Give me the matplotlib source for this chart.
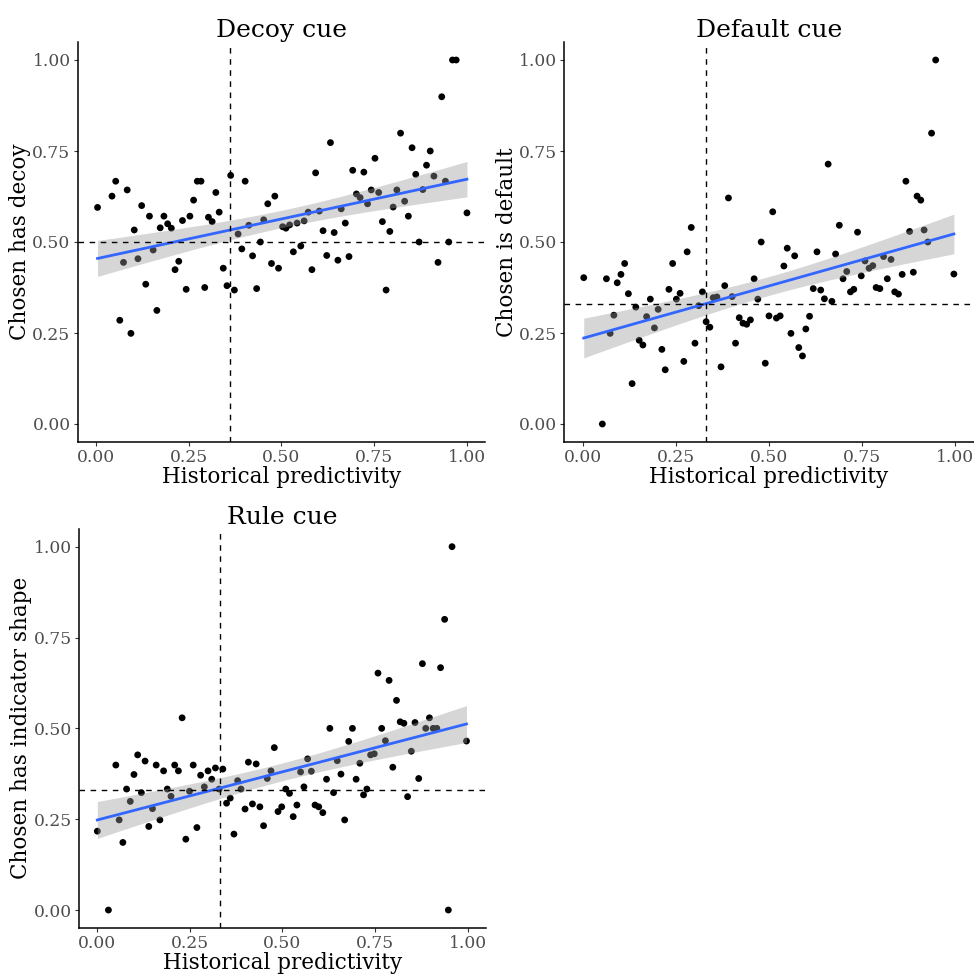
import numpy as np
import matplotlib
matplotlib.use("Agg")
import matplotlib.pyplot as plt

plt.rcParams['font.family'] = ['DejaVu Serif']

# Decoy cue
decoy_x = [0.004, 0.043, 0.053, 0.064, 0.074, 0.084, 0.094, 0.103, 0.113, 0.123,
           0.134, 0.144, 0.154, 0.164, 0.173, 0.183, 0.193, 0.203, 0.213, 0.223,
           0.233, 0.243, 0.253, 0.263, 0.273, 0.283, 0.293, 0.303, 0.313, 0.323,
           0.332, 0.343, 0.353, 0.363, 0.373, 0.383, 0.393, 0.402, 0.412, 0.422,
           0.433, 0.443, 0.452, 0.463, 0.473, 0.482, 0.492, 0.503, 0.512, 0.522,
           0.532, 0.542, 0.552, 0.561, 0.572, 0.582, 0.592, 0.602, 0.612, 0.622,
           0.632, 0.642, 0.652, 0.661, 0.672, 0.682, 0.692, 0.702, 0.712, 0.722,
           0.732, 0.742, 0.752, 0.762, 0.772, 0.782, 0.792, 0.801, 0.811, 0.821,
           0.832, 0.842, 0.852, 0.862, 0.871, 0.881, 0.891, 0.901, 0.911, 0.922,
           0.932, 0.942, 0.951, 0.961, 0.971, 1.0]
decoy_y = [0.595, 0.626, 0.667, 0.285, 0.444, 0.643, 0.249, 0.533, 0.454, 0.600,
           0.384, 0.571, 0.478, 0.312, 0.539, 0.571, 0.550, 0.538, 0.424, 0.447,
           0.559, 0.370, 0.571, 0.615, 0.667, 0.667, 0.375, 0.568, 0.556, 0.636,
           0.582, 0.428, 0.380, 0.683, 0.368, 0.522, 0.481, 0.667, 0.546, 0.462,
           0.372, 0.500, 0.561, 0.605, 0.441, 0.626, 0.428, 0.542, 0.538, 0.547,
           0.473, 0.552, 0.489, 0.558, 0.582, 0.424, 0.690, 0.585, 0.531, 0.463,
           0.773, 0.526, 0.450, 0.591, 0.552, 0.460, 0.697, 0.632, 0.622, 0.692,
           0.605, 0.643, 0.730, 0.636, 0.556, 0.368, 0.529, 0.596, 0.643, 0.799,
           0.612, 0.571, 0.759, 0.686, 0.500, 0.644, 0.711, 0.750, 0.681, 0.444,
           0.899, 0.667, 0.500, 1.0, 1.0, 0.580]

# Default cue
default_x = [0.002, 0.052, 0.063, 0.073, 0.083, 0.092, 0.102, 0.112, 0.122, 0.132,
             0.142, 0.151, 0.161, 0.171, 0.181, 0.192, 0.202, 0.212, 0.221, 0.231,
             0.241, 0.251, 0.261, 0.271, 0.280, 0.291, 0.301, 0.311, 0.321, 0.331,
             0.341, 0.350, 0.360, 0.371, 0.381, 0.391, 0.401, 0.410, 0.420, 0.430,
             0.440, 0.450, 0.460, 0.470, 0.479, 0.490, 0.500, 0.510, 0.520, 0.530,
             0.540, 0.549, 0.559, 0.569, 0.580, 0.590, 0.599, 0.609, 0.619, 0.629,
             0.639, 0.649, 0.659, 0.669, 0.679, 0.689, 0.699, 0.709, 0.719, 0.728,
             0.738, 0.748, 0.758, 0.769, 0.779, 0.788, 0.798, 0.808, 0.818, 0.828,
             0.838, 0.848, 0.858, 0.868, 0.878, 0.888, 0.898, 0.908, 0.917, 0.927,
             0.937, 0.948, 0.997]
default_y = [0.402, 0.000, 0.399, 0.249, 0.299, 0.388, 0.411, 0.441, 0.358, 0.111,
             0.321, 0.230, 0.217, 0.295, 0.343, 0.264, 0.315, 0.205, 0.149, 0.370,
             0.441, 0.343, 0.359, 0.172, 0.473, 0.540, 0.222, 0.325, 0.363, 0.281,
             0.266, 0.347, 0.349, 0.157, 0.380, 0.621, 0.350, 0.222, 0.292, 0.277,
             0.274, 0.286, 0.399, 0.343, 0.500, 0.167, 0.297, 0.583, 0.291, 0.297,
             0.434, 0.483, 0.249, 0.462, 0.210, 0.187, 0.261, 0.296, 0.372, 0.473,
             0.368, 0.344, 0.714, 0.337, 0.467, 0.546, 0.399, 0.419, 0.363, 0.370,
             0.527, 0.407, 0.448, 0.428, 0.435, 0.375, 0.372, 0.460, 0.399, 0.452,
             0.363, 0.357, 0.411, 0.667, 0.529, 0.417, 0.626, 0.615, 0.533, 0.500,
             0.799, 1.000, 0.412]

# Rule cue
rule_x = [0.000, 0.030, 0.050, 0.059, 0.069, 0.079, 0.089, 0.099, 0.109, 0.119,
          0.129, 0.139, 0.149, 0.159, 0.169, 0.179, 0.189, 0.199, 0.209, 0.219,
          0.229, 0.239, 0.249, 0.259, 0.269, 0.279, 0.289, 0.299, 0.309, 0.319,
          0.329, 0.339, 0.349, 0.359, 0.369, 0.379, 0.388, 0.399, 0.408, 0.419,
          0.429, 0.439, 0.449, 0.459, 0.469, 0.478, 0.488, 0.498, 0.509, 0.519,
          0.529, 0.539, 0.549, 0.558, 0.568, 0.578, 0.588, 0.598, 0.609, 0.619,
          0.628, 0.638, 0.648, 0.658, 0.668, 0.679, 0.689, 0.699, 0.709, 0.719,
          0.728, 0.738, 0.748, 0.758, 0.768, 0.778, 0.788, 0.798, 0.808, 0.818,
          0.828, 0.838, 0.848, 0.858, 0.868, 0.878, 0.887, 0.897, 0.907, 0.917,
          0.927, 0.938, 0.948, 0.958, 0.997]
rule_y = [0.217, 0.000, 0.399, 0.248, 0.186, 0.333, 0.299, 0.373, 0.427, 0.323,
          0.410, 0.230, 0.279, 0.399, 0.248, 0.383, 0.333, 0.313, 0.399, 0.383,
          0.529, 0.195, 0.327, 0.399, 0.227, 0.371, 0.339, 0.383, 0.360, 0.391,
          0.333, 0.388, 0.294, 0.308, 0.209, 0.356, 0.333, 0.278, 0.407, 0.292,
          0.402, 0.284, 0.232, 0.362, 0.383, 0.447, 0.271, 0.284, 0.333, 0.321,
          0.257, 0.289, 0.380, 0.339, 0.416, 0.382, 0.289, 0.284, 0.268, 0.360,
          0.500, 0.323, 0.411, 0.374, 0.248, 0.464, 0.500, 0.360, 0.404, 0.317,
          0.333, 0.427, 0.430, 0.652, 0.500, 0.466, 0.632, 0.393, 0.577, 0.518,
          0.514, 0.312, 0.437, 0.516, 0.362, 0.678, 0.500, 0.529, 0.500, 0.500,
          0.667, 0.800, 0.000, 1.000, 0.465]

panels = [
    ("Decoy cue", "Chosen has decoy", decoy_x, decoy_y, 0.36, 0.5),
    ("Default cue", "Chosen is default", default_x, default_y, 0.33, 0.33),
    ("Rule cue", "Chosen has indicator shape", rule_x, rule_y, 0.33, 0.33),
]
ticks = [0.0, 0.25, 0.5, 0.75, 1.0]
tick_labels = ["0.00", "0.25", "0.50", "0.75", "1.00"]

W, H = 974, 976
boxes = [
    (77.5, 41.8, 485.5, 442.2),
    (564.4, 41.8, 973.6, 442.2),
    (78.8, 528.5, 486.1, 928.2),
]

fig = plt.figure(figsize=(W / 100, H / 100), dpi=100)

T_CRIT = 1.985  # 97.5% t quantile, df ~ 93


def smooth_band(x, y):
    x = np.asarray(x)
    y = np.asarray(y)
    slope, intercept = np.polyfit(x, y, 1)
    resid = y - (intercept + slope * x)
    n = len(x)
    s = np.sqrt(np.sum(resid ** 2) / (n - 2))
    xs = np.linspace(x.min(), x.max(), 80)
    fit = intercept + slope * xs
    se = s * np.sqrt(1 / n + (xs - x.mean()) ** 2 / np.sum((x - x.mean()) ** 2))
    return xs, fit, fit - T_CRIT * se, fit + T_CRIT * se


for (title, ylabel, xv, yv, vline, hline), (l, t, r, b) in zip(panels, boxes):
    ax = fig.add_axes([l / W, 1 - b / H, (r - l) / W, (b - t) / H])
    ax.scatter(xv, yv, s=24, color='black', edgecolors='none', zorder=2)
    xs, fit, lo, hi = smooth_band(xv, yv)
    ax.fill_between(xs, lo, hi, color='#999999', alpha=0.4, linewidth=0, zorder=3)
    ax.plot(xs, fit, color='#3366FF', linewidth=2.0, zorder=4)
    ax.axvline(vline, color='black', linestyle=(0, (4, 4)), linewidth=1.0, zorder=5)
    ax.axhline(hline, color='black', linestyle=(0, (4, 4)), linewidth=1.0, zorder=5)

    ax.set_xlim(-0.05, 1.05)
    ax.set_ylim(-0.05, 1.05)
    ax.set_xticks(ticks)
    ax.set_xticklabels(tick_labels)
    ax.set_yticks(ticks)
    ax.set_yticklabels(tick_labels)
    for side in ['top', 'right']:
        ax.spines[side].set_visible(False)
    for side in ['left', 'bottom']:
        ax.spines[side].set_linewidth(1.1)
        ax.spines[side].set_color('black')
    ax.tick_params(direction='out', length=3, width=0.8, color='#333333',
                   labelcolor='#4d4d4d', labelsize=12.3, pad=2)
    ax.set_title(title, fontsize=18, pad=3)
    ax.set_xlabel("Historical predictivity", fontsize=15.5, labelpad=0)
    ax.set_ylabel(ylabel, fontsize=15.5, labelpad=1)

fig.savefig("out.png", dpi=100)
